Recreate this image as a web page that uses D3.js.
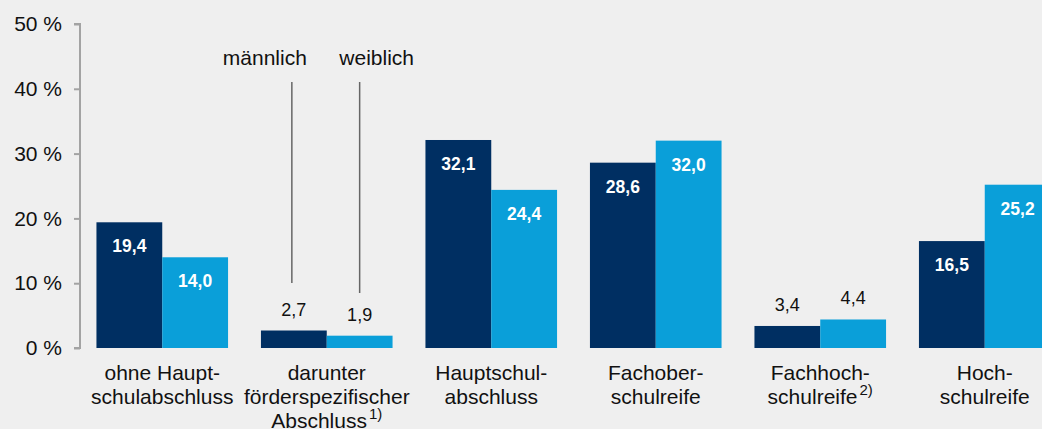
<!DOCTYPE html>
<html>
<head>
<meta charset="utf-8">
<script src="https://cdn.jsdelivr.net/npm/d3@7"></script>
<style>
  body { margin: 0; background: #efefef; }
  svg { display: block; font-family: "Liberation Sans", Arial, sans-serif; }
</style>
</head>
<body>
<div id="chart"></div>
<script>
// data
var categories = ["ohne Haupt", "darunter", "Hauptschul", "Fachober", "Fachhoch", "Hochschul"];
var labelLines = [
    ["ohne Haupt-", "schulabschluss"],
    ["darunter", "förderspezifischer", "Abschluss"],
    ["Hauptschul-", "abschluss"],
    ["Fachober-", "schulreife"],
    ["Fachhoch-", "schulreife"],
    ["Hoch-", "schulreife"]
];
var footnotes = ["", "1)", "", "", "2)", ""];
var maennlich = [19.4, 2.7, 32.1, 28.6, 3.4, 16.5];
var weiblich = [14.0, 1.9, 24.4, 32.0, 4.4, 25.2];
var yTicks = [0, 10, 20, 30, 40, 50];

var width = 1042, height = 429;
var colors = { m: "#002f62", w: "#0a9fd9" };

var svg = d3.select("#chart").append("svg")
    .attr("width", width)
    .attr("height", height);

var scalex = d3.scaleBand().domain(categories).range([80, 1067]).paddingInner(0.2).paddingOuter(0.1);
var scaley = d3.scaleLinear().domain([0, 50]).range([348, 24]);
var sub = d3.scaleBand().domain(["m", "w"]).range([0, scalex.bandwidth()]);

// y axis
var yAxis = svg.append("g")
    .attr("transform", "translate(80,0)")
    .call(d3.axisLeft(scaley).tickValues(yTicks).tickSize(6).tickPadding(12)
        .tickFormat(function (d) { return d + " %"; }));
yAxis.select(".domain").attr("stroke", "#a3a3a3").attr("stroke-width", 2)
    .attr("d", "M-6," + scaley(50) + "H0V" + scaley(0) + "H-6");
yAxis.selectAll(".tick line").attr("stroke", "#a3a3a3").attr("stroke-width", 2);
yAxis.selectAll(".tick text").attr("font-size", 21).attr("fill", "#111")
    .attr("font-family", "Liberation Sans, Arial, sans-serif");

var rows = categories.map(function (c, i) {
    return [{ cat: c, key: "m", v: maennlich[i] }, { cat: c, key: "w", v: weiblich[i] }];
});

var groups = svg.selectAll("g.grp")
    .data(rows)
    .enter().append("g")
    .attr("class", "grp")
    .attr("transform", function (d) { return "translate(" + scalex(d[0].cat) + ",0)"; });

groups.selectAll("rect")
    .data(function (d) { return d; })
    .enter().append("rect")
    .attr("x", function (d) { return sub(d.key); })
    .attr("width", sub.bandwidth())
    .attr("y", function (d) { return scaley(d.v); })
    .attr("height", function (d) { return scaley(0) - scaley(d.v); })
    .attr("fill", function (d) { return colors[d.key]; });

// value labels: inside for big bars, above for small ones
groups.selectAll("text.val")
    .data(function (d) { return d; })
    .enter().append("text")
    .attr("class", "val")
    .attr("x", function (d) { return sub(d.key) + sub.bandwidth() / 2; })
    .attr("y", function (d) { return d.v > 10 ? scaley(d.v) + 30 : scaley(d.v) - 15; })
    .attr("text-anchor", "middle")
    .attr("font-size", function (d) { return d.v > 10 ? 17.5 : 18; })
    .attr("font-weight", function (d) { return d.v > 10 ? "bold" : "normal"; })
    .attr("fill", function (d) { return d.v > 10 ? "#fff" : "#111"; })
    .text(function (d) { return d3.format(".1f")(d.v).replace(".", ","); });

// category labels
groups.each(function (d, i) {
    var g = d3.select(this);
    var lines = labelLines[i];
    var t = g.append("text")
        .attr("text-anchor", "middle")
        .attr("font-size", 21)
        .attr("fill", "#111");
    lines.forEach(function (l, j) {
        var ts = t.append("tspan")
            .attr("x", scalex.bandwidth() / 2)
            .attr("y", 380 + j * 24)
            .text(l);
        if (j == lines.length - 1 && footnotes[i]) {
            ts.append("tspan").attr("font-size", 15).attr("dx", 2).attr("dy", -9).text(footnotes[i]);
        }
    });
});

// gender annotations on second group
var g2 = scalex(categories[1]);
var ann = [
    { key: "m", text: "männlich", dx: -2, y2: 283, tx: -27 },
    { key: "w", text: "weiblich", dx: 0, y2: 293, tx: 17 }
];
ann.forEach(function (a) {
    var cx = g2 + sub(a.key) + sub.bandwidth() / 2 + a.dx;
    svg.append("line")
        .attr("x1", cx).attr("x2", cx)
        .attr("y1", 82).attr("y2", a.y2)
        .attr("stroke", "#666").attr("stroke-width", 1.5);
    svg.append("text")
        .attr("x", cx + a.tx).attr("y", 65)
        .attr("text-anchor", "middle")
        .attr("font-size", 21)
        .attr("fill", "#111")
        .text(a.text);
});
</script>
</body>
</html>
